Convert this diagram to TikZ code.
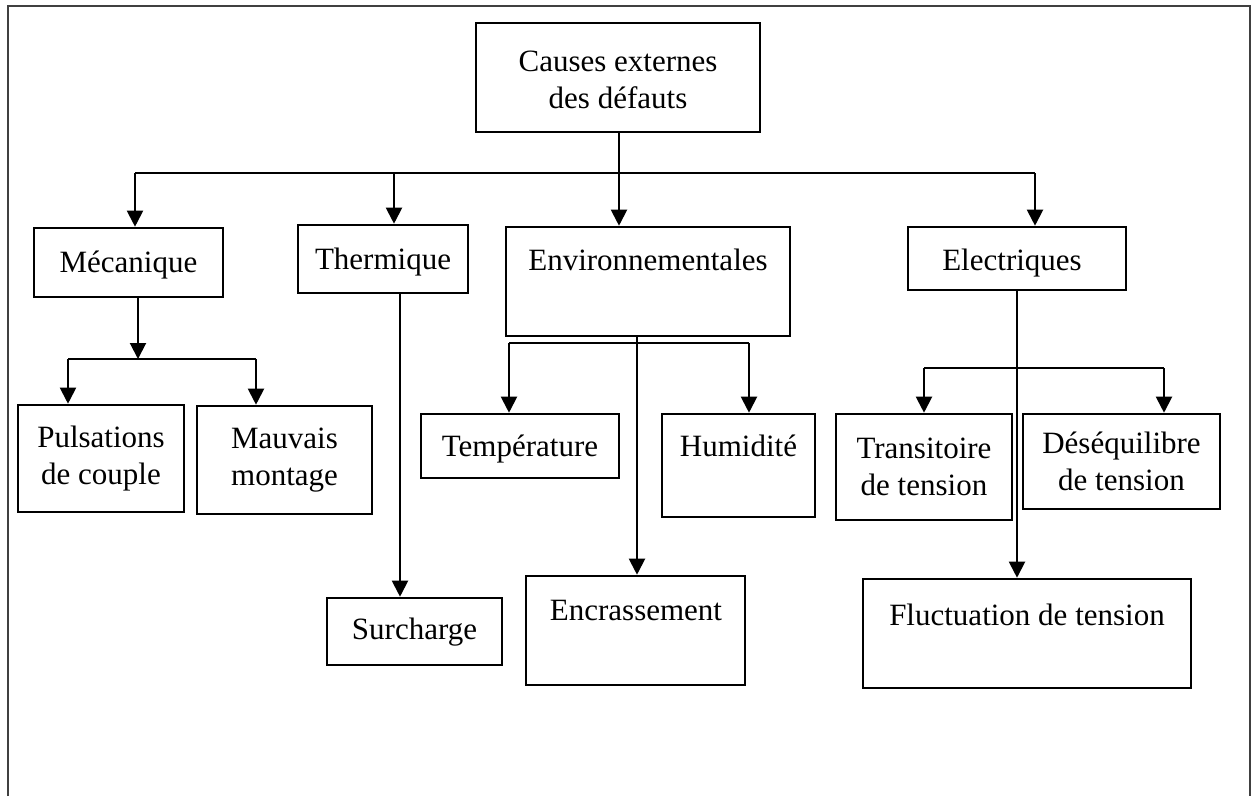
\documentclass[tikz,border=0pt]{standalone}
\usepackage{fontspec}
\setmainfont{Liberation Serif}
\usetikzlibrary{arrows.meta}
\begin{document}
\begin{tikzpicture}[x=1pt,y=-1pt,
  box/.style={draw, line width=2.6pt, inner sep=0pt, align=center,
              font=\fontsize{31}{37}\selectfont},
  txt/.style={inner sep=0pt, anchor=base, font=\fontsize{31}{37}\selectfont},
  link/.style={line width=2pt},
  arr/.style={line width=2pt, -{Triangle[width=16pt,length=16pt]}},
  frame/.style={line width=1.6pt, draw=black!75}]
\useasboundingbox (0,0) rectangle (1257,796);

% open frame around the chart
\draw[frame] (8,796) -- (8,6) -- (1250,6) -- (1250,796);

% top level
\node[box, minimum width=284pt, minimum height=109pt] (root) at (618,77.5) {};
\node[txt, anchor=center, align=center] (rootT) at (618,80)
  {Causes externes\\des défauts};

% first level
\node[box, minimum width=189pt, minimum height=69pt] (mec) at (128.5,262.5) {};
\node[txt] (mecT) at (128.5,272) {Mécanique};
\node[box, minimum width=170pt, minimum height=68pt] (the) at (383,259) {};
\node[txt] (theT) at (383,269.5) {Thermique};
\node[box, minimum width=284pt, minimum height=109pt] (env) at (648,281.5) {};
\node[txt] (envT) at (648,270) {Environnementales};
\node[box, minimum width=218pt, minimum height=63pt] (elec) at (1017,258.5) {};
\node[txt] (elecT) at (1012,270) {Electriques};

% second level
\node[box, minimum width=166pt, minimum height=107pt] (puls) at (101,458.5) {Pulsations\\de couple};
\node[box, minimum width=175pt, minimum height=108pt] (mauv) at (284.5,460) {Mauvais\\montage};
\node[box, minimum width=175pt, minimum height=67pt] (surch) at (414.5,631.5) {};
\node[txt] (surchT) at (414.5,639) {Surcharge};
\node[box, minimum width=198pt, minimum height=64pt] (temp) at (520,446) {};
\node[txt] (tempT) at (520,456) {Température};
\node[box, minimum width=153pt, minimum height=103pt] (hum) at (738.5,465.5) {};
\node[txt] (humT) at (738.5,456.5) {Humidité};
\node[box, minimum width=219pt, minimum height=109pt] (enc) at (635.5,630.5) {};
\node[txt] (encT) at (636,620) {Encrassement};
\node[box, minimum width=176pt, minimum height=106pt] (trans) at (924,467) {Transitoire\\de tension};
\node[box, minimum width=197pt, minimum height=95pt] (deseq) at (1121.5,461.5) {Déséquilibre\\de tension};
\node[box, minimum width=328pt, minimum height=109pt] (fluct) at (1027,633.5) {};
\node[txt] (fluctT) at (1027,625) {Fluctuation de tension};

% bus coordinates
\coordinate (busL) at (135,173);
\coordinate (busR) at (1035,173);
\coordinate (busT) at (394,173);
\coordinate (busE) at (619,173);
\coordinate (mecL) at (68,359);
\coordinate (mecR) at (256,359);
\coordinate (mecC) at (138,359);
\coordinate (envL) at (509,343);
\coordinate (envR) at (749,343);
\coordinate (elecL) at (924,368);
\coordinate (elecR) at (1164,368);

% root to first level
\draw[arr] (root.south -| busE) -- (busE |- env.north);
\draw[link] (busL) -- (busR);
\draw[arr] (busL) -- (busL |- mec.north);
\draw[arr] (busT) -- (busT |- the.north);
\draw[arr] (busR) -- (busR |- elec.north);

% Mécanique branch
\draw[arr] (mec.south -| mecC) -- (mecC);
\draw[link] (mecL) -- (mecR);
\draw[arr] (mecL) -- (mecL |- puls.north);
\draw[arr] (mecR) -- (mecR |- mauv.north);

% Thermique branch
\draw[arr] (the.south -| 400,0) -- (surch.north -| 400,0);

% Environnementales branch
\draw[link] (envL) -- (envR);
\draw[arr] (envL) -- (envL |- temp.north);
\draw[arr] (envR) -- (envR |- hum.north);
\draw[arr] (env.south -| 637,0) -- (enc.north -| 637,0);

% Electriques branch
\draw[link] (elecL) -- (elecR);
\draw[arr] (elecL) -- (elecL |- trans.north);
\draw[arr] (elecR) -- (elecR |- deseq.north);
\draw[arr] (elec.south -| 1017,0) -- (fluct.north -| 1017,0);
\end{tikzpicture}
\end{document}
